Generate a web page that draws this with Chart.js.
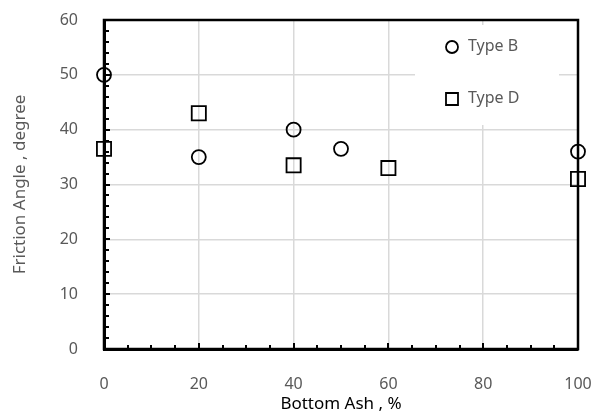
<!DOCTYPE html>
<html>
<head>
<meta charset="utf-8">
<script src="https://cdn.jsdelivr.net/npm/chart.js@4/dist/chart.umd.min.js"></script>
<style>
  html, body { margin: 0; padding: 0; background: #fff; }
</style>
</head>
<body>
<canvas id="frictionChart" width="600" height="416"></canvas>
<script>
// data
const typeBAsh = [0, 20, 40, 50, 100];
const typeBAngle = [50, 35, 40, 36.5, 36];
const typeDAsh = [0, 20, 40, 60, 100];
const typeDAngle = [36.5, 43, 33.5, 33, 31];
const seriesNames = ["Type B", "Type D"];

const fontName = "'Noto Sans', 'DejaVu Sans', sans-serif";
const labelGrey = "#595959";

function toPoints(xs, ys) {
    return xs.map((x, i) => ({ x: x, y: ys[i] }));
}

// frame + inward minor/major ticks
const frameTicks = {
    id: "frameTicks",
    afterDatasetsDraw(chart) {
        const { ctx, chartArea: a, scales } = chart;
        ctx.save();
        ctx.strokeStyle = "#000";
        ctx.lineWidth = 2;
        for (let v = 0; v <= 60; v += 2) {
            const y = Math.round(scales.y.getPixelForValue(v));
            const len = v % 10 === 0 ? 6 : 5;
            ctx.beginPath();
            ctx.moveTo(a.left, y);
            ctx.lineTo(a.left + len, y);
            ctx.stroke();
        }
        for (let v = 0; v <= 100; v += 5) {
            const x = Math.round(scales.x.getPixelForValue(v));
            const len = v % 20 === 0 ? 6 : 4;
            ctx.beginPath();
            ctx.moveTo(x, a.bottom);
            ctx.lineTo(x, a.bottom - len);
            ctx.stroke();
        }
        ctx.lineWidth = 2.5;
        ctx.strokeRect(a.left, a.top, a.right - a.left, a.bottom - a.top);
        ctx.restore();
    }
};

// legend box sitting inside the plot, top right
const innerLegend = {
    id: "innerLegend",
    beforeDatasetsDraw(chart) {
        const { ctx, chartArea: a } = chart;
        const left = a.right - 163;
        const top = a.top + 5;
        ctx.save();
        ctx.fillStyle = "#fff";
        ctx.fillRect(left, top, 144, 100);

        const items = chart.data.datasets;
        items.forEach((ds, i) => {
            const cy = a.top + 27 + i * 52;
            const cx = left + 37;
            ctx.strokeStyle = "#000";
            ctx.lineWidth = 1.8;
            ctx.beginPath();
            if (ds.pointStyle === "rect") {
                ctx.rect(cx - 6, cy - 6, 12, 12);
            } else {
                ctx.arc(cx, cy, 6, 0, Math.PI * 2);
            }
            ctx.stroke();
            ctx.fillStyle = labelGrey;
            ctx.font = "16px " + fontName;
            ctx.textBaseline = "middle";
            ctx.fillText(ds.label, cx + 16, cy - 1);
        });
        ctx.restore();
    }
};

const datasets = [
    {
        label: seriesNames[0],
        data: toPoints(typeBAsh, typeBAngle),
        pointStyle: "circle",
        pointRadius: 7,
        pointBorderWidth: 1.8,
        pointBorderColor: "#000",
        pointBackgroundColor: "rgba(0,0,0,0)",
        showLine: false,
        clip: false
    },
    {
        label: seriesNames[1],
        data: toPoints(typeDAsh, typeDAngle),
        pointStyle: "rect",
        pointRadius: 10,
        pointBorderWidth: 1.8,
        pointBorderColor: "#000",
        pointBackgroundColor: "rgba(0,0,0,0)",
        showLine: false,
        clip: false
    }
];

new Chart(document.getElementById("frictionChart"), {
    type: "scatter",
    data: { datasets: datasets },
    options: {
        responsive: false,
        animation: false,
        devicePixelRatio: 1,
        layout: { padding: { left: 0, top: 20, right: 22, bottom: 0 } },
        plugins: {
            legend: { display: false },
            tooltip: { enabled: false }
        },
        scales: {
            x: {
                type: "linear",
                min: 0,
                max: 100,
                afterFit: s => {
                    s.height = 67;
                    s.paddingLeft = 0;
                    s.paddingRight = 0;
                },
                ticks: {
                    stepSize: 20,
                    color: labelGrey,
                    font: { family: fontName, size: 16 },
                    padding: 26
                },
                grid: { color: "#d9d9d9", lineWidth: 1.5, drawTicks: false },
                border: { display: true, color: "#000", width: 3 },
                title: {
                    display: true,
                    text: "Bottom Ash , %",
                    color: "#000",
                    font: { family: fontName, size: 17 },
                    padding: { top: 0, bottom: 2 }
                }
            },
            y: {
                min: 0,
                max: 60,
                afterFit: s => {
                    s.width = 104;
                    s.paddingTop = 0;
                    s.paddingBottom = 0;
                },
                ticks: {
                    stepSize: 10,
                    color: labelGrey,
                    font: { family: fontName, size: 16 },
                    padding: 26
                },
                grid: { color: "#d9d9d9", lineWidth: 1.5, drawTicks: false },
                border: { display: true, color: "#000", width: 3 },
                title: {
                    display: true,
                    text: "Friction Angle , degree",
                    color: labelGrey,
                    font: { family: fontName, size: 17 },
                    padding: { top: 10, bottom: 0 }
                }
            }
        }
    },
    plugins: [innerLegend, frameTicks]
});
</script>
</body>
</html>
